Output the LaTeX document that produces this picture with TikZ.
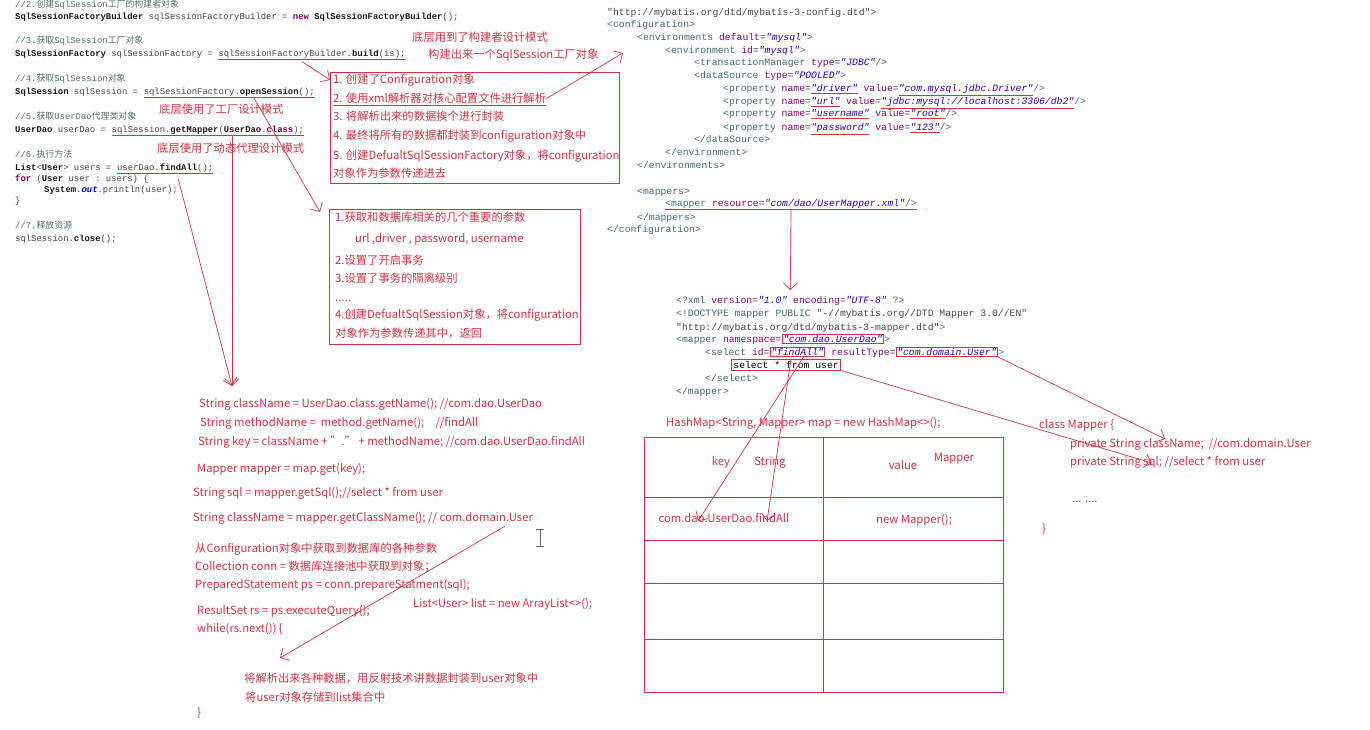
\documentclass[tikz,border=0pt]{standalone}
\usepackage{fontspec}
\setmainfont{Noto Sans CJK SC}
\setmonofont{Liberation Mono}
\newfontfamily\cjk{Noto Sans CJK SC}
\usetikzlibrary{arrows.meta,positioning}

\definecolor{annot}{RGB}{208,52,66}
\definecolor{codegray}{RGB}{70,70,70}
\definecolor{codedark}{RGB}{25,25,25}
\definecolor{kwpurple}{RGB}{127,0,85}
\definecolor{cmtgreen}{RGB}{80,115,100}
\definecolor{xtagc}{RGB}{65,105,120}
\definecolor{xattrc}{RGB}{127,0,127}
\definecolor{xvalc}{RGB}{42,0,190}
\definecolor{outblue}{RGB}{0,0,180}

\newcommand\ctype[1]{{\bfseries\color{codedark}#1}}
\newcommand\ckw[1]{{\bfseries\color{kwpurple}#1}}
\newcommand\ccmt[1]{{\color{cmtgreen}#1}}
\newcommand\zh[1]{{\cjk #1}}
\newcommand\xtag[1]{{\color{xtagc}#1}}
\newcommand\xattr[1]{{\color{xattrc}#1}}
\newcommand\xval[1]{{\color{xvalc}\itshape #1}}
\newcommand\redul[1]{\textcolor{annot}{\underline{#1}}}

\tikzset{
  codeline/.style={anchor=base west, inner sep=0pt, text=codegray, font=\ttfamily\fontsize{8.9}{10}\selectfont},
  xmlline/.style={codeline, font=\ttfamily\fontsize{9.75}{11}\selectfont},
  redtext/.style={anchor=base west, inner sep=0pt, text=annot, font=\fontsize{11.3}{13}\selectfont},
  redbox/.style={draw=annot, line width=0.8pt},
  redline/.style={draw=annot, line width=0.7pt},
  redarrow/.style={draw=annot, line width=0.7pt, -{Straight Barb[length=7pt,width=14pt]}},
}

\begin{document}
\begin{tikzpicture}[x=1pt,y=-1pt]
\useasboundingbox (0,0) rectangle (1370,730);
\fill[white] (0,0) rectangle (1370,730);

%java code
\node[codeline] (c2cmt) at (15,8) {\ccmt{//2.\zh{创建}SqlSession\zh{工厂的构建者对象}}};
\node[codeline] (c2) at (15,20) {\ctype{SqlSessionFactoryBuilder} sqlSessionFactoryBuilder = \ckw{new} \ctype{SqlSessionFactoryBuilder}();};
\node[codeline] (c3cmt) at (15,44) {\ccmt{//3.\zh{获取}SqlSession\zh{工厂对象}}};
\node[codeline] (c3) at (15,56.5) {\ctype{SqlSessionFactory} sqlSessionFactory =};
\node[codeline] (build) at ([xshift=5.34pt]c3.base east) {sqlSessionFactoryBuilder.\ctype{build}(is);};
\node[codeline] (c4cmt) at (15,82) {\ccmt{//4.\zh{获取}SqlSession\zh{对象}}};
\node[codeline] (c4) at (15,94.5) {\ctype{SqlSession} sqlSession =};
\node[codeline] (opens) at ([xshift=5.34pt]c4.base east) {sqlSessionFactory.\ctype{openSession}();};
\node[codeline] (c5cmt) at (15,120) {\ccmt{//5.\zh{获取}UserDao\zh{代理类对象}}};
\node[codeline] (c5) at (15,132.5) {\ctype{UserDao} userDao =};
\node[codeline] (getm) at ([xshift=5.34pt]c5.base east) {sqlSession.\ctype{getMapper}(\ctype{UserDao}.\ckw{class});};
\node[codeline] (c6cmt) at (15,158) {\ccmt{//6.\zh{执行方法}}};
\node[codeline] (c6) at (15,170.5) {\ctype{List}<\ctype{User}> users =};
\node[codeline] (finda) at ([xshift=5.34pt]c6.base east) {userDao.\ctype{findAll}();};
\node[codeline] (c6b) at (15,181.5) {\ckw{for} (\ctype{User} user : users) \{};
\node[codeline] (c6c) at (44,193) {\ctype{System}.{\bfseries\itshape\color{outblue}out}.println(user);};
\node[codeline] (c6d) at (15,204) {\}};
\node[codeline] (c7cmt) at (15,229) {\ccmt{//7.\zh{释放资源}}};
\node[codeline] (c7) at (15,241.5) {sqlSession.\ctype{close}();};

\foreach \n in {build,opens,getm,finda}
  \draw[redline] ([yshift=-1pt]\n.south west) -- ([yshift=-1pt]\n.south east);

%notes on the code
\node[redtext] (factnote) at (159,114) {底层使用了工厂设计模式};
\node[redtext] (proxynote) at (157,153) {底层使用了动态代理设计模式};
\node[redtext] (buildnote) at (412,42) {底层用到了构建者设计模式};
\node[redtext] (buildnote2) at (428,59) {构建出来一个SqlSession工厂对象};

%box of build()
\node[redbox, anchor=north west, minimum width=289, minimum height=111] (box1) at (330,72) {};
\node[redtext] (b1l1) at (333,84) {1. 创建了Configuration对象};
\node[redtext] (b1l2) at (333,103) {2. 使用xml解析器对核心配置文件进行解析};
\node[redtext] (b1l3) at (333,121) {3. 将解析出来的数据挨个进行封装};
\node[redtext] (b1l4) at (333,140) {4. 最终将所有的数据都封装到configuration对象中};
\node[redtext] (b1l5) at (333,160) {5. 创建DefualtSqlSessionFactory对象，将configuration};
\node[redtext] (b1l6) at (333,178) {对象作为参数传递进去};
\draw[redline] ([yshift=-1pt]b1l2.south west) -- ([yshift=-1pt]b1l2.south east);

%box of openSession()
\node[redbox, anchor=north west, minimum width=251, minimum height=135] (box2) at (329,209) {};
\node[redtext] (b2l1) at (335,222) {1.获取和数据库相关的几个重要的参数};
\node[redtext] (b2l2) at (355,242) {url ,driver , password, username};
\node[redtext] (b2l3) at (335,264) {2.设置了开启事务};
\node[redtext] (b2l4) at (335,282) {3.设置了事务的隔离级别};
\node[redtext] (b2l5) at (335,301) {.....};
\node[redtext] (b2l6) at (335,318) {4.创建DefualtSqlSession对象，将configuration};
\node[redtext] (b2l7) at (335,337) {对象作为参数传递其中，返回};

%core config xml
\node[xmlline] (x1) at (607,15.5) {"http://mybatis.org/dtd/mybatis-3-config.dtd"\xtag{>}};
\node[xmlline] (x2) at (607,27.5) {\xtag{<configuration>}};
\node[xmlline] (x3) at (637,40.5) {\xtag{<environments} \xattr{default}=\xval{"mysql"}\xtag{>}};
\node[xmlline] (x4) at (665,53.5) {\xtag{<environment} \xattr{id}=\xval{"mysql"}\xtag{>}};
\node[xmlline] (x5) at (694,65.5) {\xtag{<transactionManager} \xattr{type}=\xval{"JDBC"}\xtag{/>}};
\node[xmlline] (x6) at (694,78.5) {\xtag{<dataSource} \xattr{type}=\xval{"POOLED"}\xtag{>}};
\node[xmlline] (x7) at (723,91.5) {\xtag{<property} \xattr{name}=\redul{\xval{"driver"}} \xattr{value}=\redul{\xval{"com.mysql.jdbc.Driver"}}\xtag{/>}};
\node[xmlline] (x8) at (723,104.5) {\xtag{<property} \xattr{name}=\redul{\xval{"url"}} \xattr{value}=\redul{\xval{"jdbc:mysql://localhost:3306/db2"}}\xtag{/>}};
\node[xmlline] (x9) at (723,116.5) {\xtag{<property} \xattr{name}=\redul{\xval{"username"}} \xattr{value}=\redul{\xval{"root"}}\xtag{/>}};
\node[xmlline] (x10) at (723,130.5) {\xtag{<property} \xattr{name}=\redul{\xval{"password"}} \xattr{value}=\redul{\xval{"123"}}\xtag{/>}};
\node[xmlline] (x11) at (694,142.5) {\xtag{</dataSource>}};
\node[xmlline] (x12) at (665,155.5) {\xtag{</environment>}};
\node[xmlline] (x13) at (637,168.5) {\xtag{</environments>}};
\node[xmlline] (x14) at (637,194.5) {\xtag{<mappers>}};
\node[xmlline] (mapres) at (665,206.5) {\xtag{<mapper} \xattr{resource}=\xval{"com/dao/UserMapper.xml"}\xtag{/>}};
\node[xmlline] (x16) at (637,220.5) {\xtag{</mappers>}};
\node[xmlline] (x17) at (607,232.5) {\xtag{</configuration>}};
\draw[redline] ([yshift=-1pt]mapres.south west) -- ([yshift=-1pt]mapres.south east);

%mapper xml
\node[xmlline] (m1) at (676,303.5) {\xtag{<?xml} \xattr{version}=\xval{"1.0"} \xattr{encoding}=\xval{"UTF-8"} \xtag{?>}};
\node[xmlline] (m2) at (676,316.5) {\xtag{<!DOCTYPE mapper PUBLIC} "-//mybatis.org//DTD Mapper 3.0//EN"};
\node[xmlline] (m3) at (676,330) {"http://mybatis.org/dtd/mybatis-3-mapper.dtd"\xtag{>}};
\node[xmlline] (m4) at (676,342.5) {\xtag{<mapper} \xattr{namespace}=};
\node[xmlline, redbox, inner sep=1pt] (ns) at (m4.base east) {\xval{"com.dao.UserDao"}};
\node[xmlline] (m4e) at (ns.base east) {\xtag{>}};
\node[xmlline] (m5) at (705,355.5) {\xtag{<select} \xattr{id}=};
\node[xmlline, redbox, inner sep=1pt] (fid) at (m5.base east) {\xval{"findAll"}};
\node[xmlline] (m5b) at (fid.base east) {~\xattr{resultType}=};
\node[xmlline, redbox, inner sep=1pt] (dom) at (m5b.base east) {\xval{"com.domain.User"}};
\node[xmlline] (m5e) at (dom.base east) {\xtag{>}};
\node[xmlline, redbox, inner sep=2pt, text=black] (sel) at (731,368) {select * from user};
\node[xmlline] (m7) at (705,381) {\xtag{</select>}};
\node[xmlline] (m8) at (676,394) {\xtag{</mapper>}};

%proxy method
\node[redtext] (cn) at (199,407) {String className = UserDao.class.getName(); //com.dao.UserDao};
\node[redtext] (mn) at (200,426) {String methodName =\ \ method.getName();\quad //findAll};
\node[redtext] (keyln) at (198,445) {String key = className + "." + methodName; //com.dao.UserDao.findAll};
\node[redtext] (mp) at (197,472) {Mapper mapper = map.get(key);};
\node[redtext] (sqlln) at (193,496) {String sql = mapper.getSql();//select * from user};
\node[redtext] (cn2) at (193,521) {String className = mapper.getClassName(); // com.domain.User};
\node[redtext] (cfgp) at (195,552) {从Configuration对象中获取到数据库的各种参数};
\node[redtext] (conn) at (195,570) {Collection conn = 数据库连接池中获取到对象；};
\node[redtext] (ps) at (195,588) {PreparedStatement ps = conn.prepareStatment(sql);};
\node[redtext] (lst) at (413,607) {List<User> list = new ArrayList<>();};
\node[redtext] (rs) at (197,614) {ResultSet rs = ps.executeQuery();};
\node[redtext] (wh) at (197,632) {while(rs.next()) \{};
\node[redtext] (refl) at (244,682) {将解析出来各种数据，用反射技术讲数据封装到user对象中};
\node[redtext] (store) at (245,701) {将user对象存储到list集合中};
\node[redtext] (wend) at (197,716) {\}};

%cursor
\draw[black!60] (536,529) -- (544,529) (540,529) -- (540,546) (536,546) -- (544,546);

%hashmap table
\node[redtext] (hm) at (666,426) {HashMap<String, Mapper> map = new HashMap<>();};
\node[redbox, anchor=north west, minimum width=359, minimum height=255] (tbl) at (644,437) {};
\draw[redline] (tbl.north) ++(-1,0) coordinate (colt) -- (tbl.south -| colt);
\foreach \ry in {497,540,583,639}
  \draw[redline] (tbl.west |- 0,\ry) -- (tbl.east |- 0,\ry);
\node[redtext, anchor=center] (hkey) at (721,462) {key};
\node[redtext, anchor=center] (hstr) at (770,463) {String};
\node[redtext, anchor=center] (hval) at (903,465) {value};
\node[redtext, anchor=center] (hmap) at (954,459) {Mapper};
\node[redtext, anchor=center] (kcell) at (724,518) {com.dao.UserDao.findAll};
\node[redtext, anchor=center] (vcell) at (914,520) {new Mapper();};

%class Mapper
\node[redtext] (cls) at (1039,428) {class Mapper \{};
\node[redtext] (fcn) at (1070,447) {private String className;\ \ //com.domain.User};
\node[redtext] (fsql) at (1070,465) {private String sql; //select * from user};
\node[redtext] (fdots) at (1072,502) {... ....};
\node[redtext] (fend) at (1042,532) {\}};

%arrows
\coordinate (meet) at (232,386);
\coordinate (cfgin) at (623,53);
\coordinate (rowin) at (280,658);
\coordinate (cnin) at (1165,439);
\coordinate (sqlin) at (1152,463);
\draw[redarrow] ([xshift=-10pt,yshift=-3pt]build.south) -- ([yshift=-8pt]box1.north west);
\draw[redarrow] (b1l2.east) -- (cfgin);
\draw[redarrow] ([xshift=25pt,yshift=-2pt]opens.south) -- ([xshift=-9pt,yshift=-3pt]box2.north west);
\draw[redarrow] (getm.south -| meet) -- (meet);
\draw[redarrow] ([xshift=13pt,yshift=-6pt]finda.south) -- (meet);
\draw[redarrow] ([yshift=-1pt]mapres.south) -- ([yshift=6pt]m1.north);
\draw[redarrow] ([xshift=6pt]fid.south) -- ([xshift=-26pt,yshift=-8pt]kcell.north);
\draw[redarrow] ([xshift=5pt]sel.north) -- ([xshift=43pt,yshift=-8pt]kcell.north);
\draw[redarrow] (sel.south east) -- (sqlin);
\draw[redarrow] (dom.south east) -- (cnin);
\draw[redarrow] ([xshift=-28pt,yshift=-2pt]cn2.south east) -- (rowin);

\end{tikzpicture}
\end{document}
